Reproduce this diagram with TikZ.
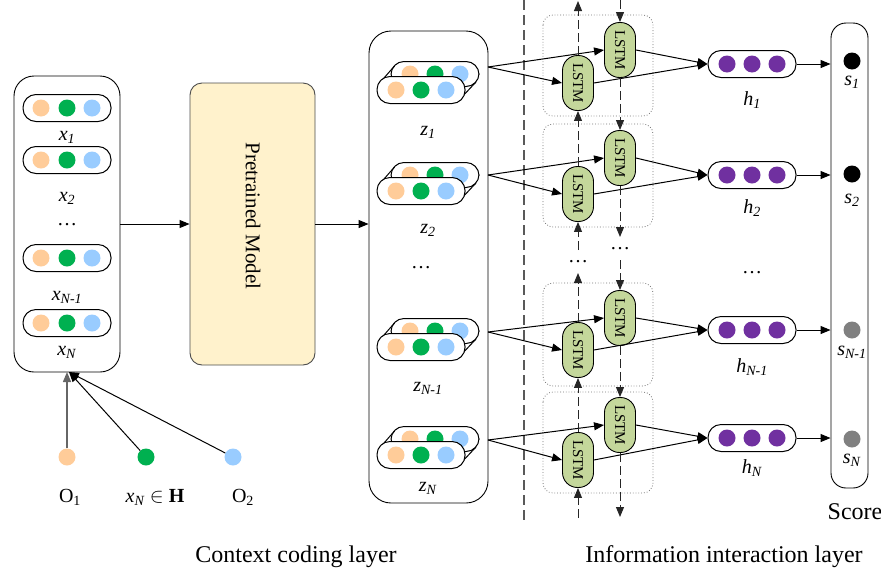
\documentclass[tikz,border=0pt]{standalone}
\usepackage{fontspec}
\setmainfont{Liberation Serif}
\usetikzlibrary{arrows.meta}
\definecolor{cor}{HTML}{FFCC99}
\definecolor{cgr}{HTML}{00B050}
\definecolor{cbl}{HTML}{99CCFF}
\definecolor{cpu}{HTML}{7030A0}
\definecolor{lstmg}{HTML}{C4D79B}
\definecolor{cream}{HTML}{FFF2CC}
\definecolor{dgray}{HTML}{808080}
\newcommand\vsub[2]{\textit{#1}\textsubscript{\textit{#2}}}
\tikzset{
  pill/.style={draw, line width=1pt, fill=white, rounded corners=13pt, minimum width=88pt, minimum height=27pt, inner sep=0pt},
  dotc/.style={circle, inner sep=0pt, minimum size=17pt},
  lstmbox/.style={draw, line width=0.9pt, fill=lstmg, rounded corners=15pt, minimum width=31pt, minimum height=55pt, inner sep=0pt, font=\fontsize{15}{15}\selectfont},
  bigbox/.style={draw, line width=0.9pt, inner sep=0pt},
  arr/.style={-{Triangle[length=10pt,width=8pt]}, line width=1pt},
  darr/.style={arr, dash pattern=on 9pt off 4pt, draw=black!85},
  lbl/.style={font=\fontsize{20}{22}\selectfont, inner sep=0pt},
  captext/.style={font=\fontsize{24}{26}\selectfont, inner sep=0pt},
}
\begin{document}
\begin{tikzpicture}[x=1pt,y=-1pt]
\useasboundingbox (0,0) rectangle (881,579);

% ---------- left input box ----------
\node[bigbox, rounded corners=20pt, minimum width=106pt, minimum height=296pt] (xbox) at (67,224) {};
\foreach \i/\y in {1/108,2/160,3/258,4/323} {
  \node[pill] (xp\i) at (67,\y) {};
  \node[dotc, fill=cor] (xpa\i) at (41,\y) {};
  \node[dotc, fill=cgr] (xpb\i) at (67,\y) {};
  \node[dotc, fill=cbl] (xpc\i) at (92,\y) {};
}
\node[lbl] (xl1) at (67,137) {\vsub{x}{1}};
\node[lbl] (xl2) at (67,198) {\vsub{x}{2}};
\node[lbl] (xdots) at (67,225) {\dots};
\node[lbl] (xl3) at (67,297) {\vsub{x}{N-1}};
\node[lbl] (xl4) at (67,352) {\vsub{x}{N}};

% ---------- bottom inputs ----------
\node[dotc, fill=cor] (o1) at (67,457) {};
\node[dotc, fill=cgr] (oh) at (146,457) {};
\node[dotc, fill=cbl] (o2) at (233,457) {};
\coordinate (xin) at (69,372);
\draw[arr, draw=black!60, line width=1.3pt] (o1) -- (o1 |- xin);
\draw[arr] (oh) -- (xin);
\draw[arr] (o2) -- (xin);
\node[lbl] (o1l) at (70,497) {O\textsubscript{1}};
\node[lbl] (ohl) at (155,497) {\vsub{x}{N} $\in$ \textbf{H}};
\node[lbl] (o2l) at (243,497) {O\textsubscript{2}};

% ---------- pretrained model ----------
\node[draw=black!70, line width=0.9pt, fill=cream, rounded corners=12pt, minimum width=125pt, minimum height=282pt] (model) at (252.5,224) {};
\node[rotate=-90, font=\fontsize{21}{22}\selectfont] (modell) at (253,216) {Pretrained Model};
\draw[arr] (xbox.east |- model.west) -- (model.west);

% ---------- z box ----------
\node[bigbox, rounded corners=22pt, minimum width=119pt, minimum height=472pt] (zbox) at (428.5,267) {};
\draw[arr] (model.east) -- (zbox.west |- model.east);
\foreach \i/\y/\o in {1/90/67,2/191/175,3/347/332,4/455/440} {
  \pgfmathsetmacro\yb{\y-16}
  \node[pill, minimum height=25pt] (zb\i) at (435,\yb) {};
  \node[dotc, fill=cor] (zba\i) at (410,\yb) {};
  \node[dotc, fill=cgr] (zbb\i) at (435,\yb) {};
  \node[dotc, fill=cbl] (zbc\i) at (460,\yb) {};
  \draw[line width=1pt] (380.5,\y-8) -- (394.5,\yb-8);
  \draw[line width=1pt] (461,\y+8) -- (476,\yb+8);
  \node[pill] (zf\i) at (421,\y) {};
  \node[dotc, fill=cor] (zfa\i) at (396,\y) {};
  \node[dotc, fill=cgr] (zfb\i) at (421,\y) {};
  \node[dotc, fill=cbl] (zfc\i) at (446,\y) {};
  \coordinate (zo\i) at (488,\o);
}
\node[lbl] (zl1) at (428,132) {\vsub{z}{1}};
\node[lbl] (zl2) at (428,230) {\vsub{z}{2}};
\node[lbl] (zdots) at (421,268) {\dots};
\node[lbl] (zl3) at (428,388) {\vsub{z}{N-1}};
\node[lbl] (zl4) at (428,488) {\vsub{z}{N}};

% ---------- separator ----------
\coordinate (dtop) at (524,0);
\coordinate (dbot) at (524,522);
\draw[draw=black!65, line width=1.1pt, dash pattern=on 10pt off 5pt] (dtop) -- (dbot);

% ---------- h pills ----------
\foreach \i/\y in {1/64,2/175,3/330,4/438} {
  \node[pill] (h\i) at (752,\y) {};
  \node[dotc, fill=cpu] (ha\i) at (727,\y) {};
  \node[dotc, fill=cpu] (hb\i) at (752,\y) {};
  \node[dotc, fill=cpu] (hc\i) at (777,\y) {};
}
\node[lbl] (hl1) at (752,100) {\vsub{h}{1}};
\node[lbl] (hl2) at (752,208) {\vsub{h}{2}};
\node[lbl] (hdots) at (752,273) {\dots};
\node[lbl] (hl3) at (752,367) {\vsub{h}{N-1}};
\node[lbl] (hl4) at (752,468) {\vsub{h}{N}};

% ---------- LSTM blocks ----------
\foreach \i/\u/\l/\bt/\bb in {1/50/83/15/116,2/158/194/124/227,3/318/350/283/386,4/425/460/392/493} {
  \draw[draw=black!55, dotted, line width=0.8pt, rounded corners=10pt] (543,\bt) rectangle (653,\bb);
  \node[lstmbox] (u\i) at (620,\u) {\rotatebox{-90}{LSTM}};
  \node[lstmbox] (l\i) at (578,\l) {\rotatebox{-90}{LSTM}};
  \draw[arr] (zo\i) -- (u\i.west);
  \draw[arr] (zo\i) -- (l\i.west);
  \draw[arr] (u\i.east) -- (h\i.west);
  \draw[arr] (l\i.east) -- (h\i.west);
}

% backward column (upwards)
\coordinate (lb) at (578,518);
\coordinate (lm1) at (578,273);
\coordinate (lm2) at (578,250);
\coordinate (lt) at (578,1);
\draw[darr] (lb) -- (l4.south);
\draw[darr] (l4.north) -- (l3.south);
\draw[darr] (l3.north) -- (lm1);
\node[lbl] (ldots) at (578,262) {\dots};
\draw[darr] (lm2) -- (l2.south);
\draw[darr] (l2.north) -- (l1.south);
\draw[darr] (l1.north) -- (lt);

% forward column (downwards)
\coordinate (ut) at (620,0);
\coordinate (um1) at (620,237);
\coordinate (um2) at (620,260);
\coordinate (ub) at (620,517);
\draw[darr] (ut) -- (u1.north);
\draw[darr] (u1.south) -- (u2.north);
\draw[darr] (u2.south) -- (um1);
\node[lbl] (udots) at (620,249) {\dots};
\draw[darr] (um2) -- (u3.north);
\draw[darr] (u3.south) -- (u4.north);
\draw[darr] (u4.south) -- (ub);

% ---------- score ----------
\node[bigbox, rounded corners=15pt, minimum width=37pt, minimum height=465pt] (sbox) at (849.5,255.5) {};
\node[dotc, fill=black] (s1) at (852,61) {};
\node[dotc, fill=black] (s2) at (852,174) {};
\node[dotc, fill=dgray] (s3) at (852,330) {};
\node[dotc, fill=dgray] (s4) at (852,439) {};
\foreach \i in {1,2,3,4} {
  \draw[arr] (h\i.east) -- (sbox.west |- h\i.east);
}
\node[lbl] (sl1) at (852,82) {\vsub{s}{1}};
\node[lbl] (sl2) at (852,200) {\vsub{s}{2}};
\node[lbl] (sl3) at (852,352) {\vsub{s}{N-1}};
\node[lbl] (sl4) at (852,460) {\vsub{s}{N}};
\node[captext] (score) at (855,512) {Score};

% ---------- captions ----------
\node[captext] (cap1) at (296,557) {Context coding layer};
\node[captext] (cap2) at (724,557) {Information interaction layer};
\end{tikzpicture}
\end{document}
